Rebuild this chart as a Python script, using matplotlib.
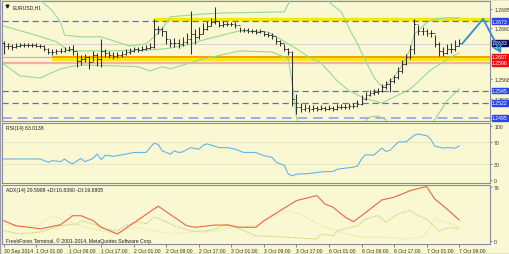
import matplotlib
matplotlib.use("Agg")
import matplotlib.pyplot as plt
import numpy as np

plt.rcParams["font.family"] = ["Liberation Sans", "DejaVu Sans"]

BG = "#f9f8d2"
SPINE = "#8c8ca0"

# hourly bars, bar 0 = 30 Sep 17:00
high = [
    1.2636, 1.2633, 1.2631, 1.2633, 1.2633, 1.2633, 1.2633, 1.2633, 1.2633, 1.2631,
    1.2629, 1.2624, 1.2622, 1.2622, 1.2624, 1.2625, 1.2627, 1.2629, 1.2616, 1.2611,
    1.2612, 1.2609, 1.2618, 1.2614, 1.2640, 1.2622, 1.2618, 1.2616, 1.2616, 1.2618,
    1.2622, 1.2624, 1.2625, 1.2625, 1.2627, 1.2629, 1.2633, 1.2677, 1.2664, 1.2662,
    1.2655, 1.2640, 1.2642, 1.2640, 1.2644, 1.2651, 1.2692, 1.2659, 1.2662, 1.2670,
    1.2673, 1.2679, 1.2699, 1.2673, 1.2673, 1.2671, 1.2671, 1.2671, 1.2662, 1.2660,
    1.2660, 1.2659, 1.2659, 1.2659, 1.2655, 1.2653, 1.2651, 1.2644, 1.2638, 1.2631,
    1.2624, 1.2618, 1.2539, 1.2522, 1.2520, 1.2518, 1.2518, 1.2517, 1.2518, 1.2517,
    1.2518, 1.2517, 1.2520, 1.2520, 1.2520, 1.2522, 1.2522, 1.2528, 1.2537, 1.2542,
    1.2546, 1.2548, 1.2550, 1.2557, 1.2563, 1.2568, 1.2574, 1.2589, 1.2601, 1.2612,
    1.2629, 1.2677, 1.2666, 1.2662, 1.2659, 1.2657, 1.2647, 1.2635, 1.2625, 1.2631,
    1.2633, 1.2638, 1.2640,
]
low = [
    1.2612, 1.2622, 1.2620, 1.2624, 1.2625, 1.2625, 1.2625, 1.2625, 1.2625, 1.2624,
    1.2618, 1.2612, 1.2611, 1.2612, 1.2614, 1.2616, 1.2618, 1.2611, 1.2589, 1.2592,
    1.2598, 1.2585, 1.2600, 1.2590, 1.2589, 1.2607, 1.2605, 1.2603, 1.2605, 1.2607,
    1.2611, 1.2612, 1.2616, 1.2616, 1.2618, 1.2620, 1.2622, 1.2624, 1.2649, 1.2646,
    1.2631, 1.2625, 1.2625, 1.2624, 1.2627, 1.2631, 1.2612, 1.2631, 1.2640, 1.2649,
    1.2657, 1.2664, 1.2668, 1.2662, 1.2662, 1.2664, 1.2664, 1.2660, 1.2653, 1.2653,
    1.2651, 1.2651, 1.2649, 1.2651, 1.2646, 1.2644, 1.2640, 1.2631, 1.2627, 1.2618,
    1.2611, 1.2517, 1.2502, 1.2506, 1.2507, 1.2506, 1.2507, 1.2507, 1.2509, 1.2507,
    1.2509, 1.2507, 1.2509, 1.2511, 1.2511, 1.2511, 1.2513, 1.2515, 1.2518, 1.2528,
    1.2535, 1.2537, 1.2539, 1.2542, 1.2548, 1.2542, 1.2559, 1.2566, 1.2577, 1.2592,
    1.2603, 1.2612, 1.2647, 1.2647, 1.2646, 1.2644, 1.2625, 1.2609, 1.2609, 1.2612,
    1.2614, 1.2618, 1.2627,
]
close = [
    1.2627, 1.2627, 1.2625, 1.2627, 1.2629, 1.2629, 1.2629, 1.2629, 1.2627, 1.2627,
    1.2622, 1.2616, 1.2616, 1.2618, 1.2618, 1.2620, 1.2622, 1.2618, 1.2600, 1.2603,
    1.2607, 1.2598, 1.2611, 1.2603, 1.2618, 1.2614, 1.2611, 1.2609, 1.2611, 1.2612,
    1.2616, 1.2618, 1.2622, 1.2620, 1.2622, 1.2624, 1.2625, 1.2659, 1.2659, 1.2655,
    1.2640, 1.2633, 1.2633, 1.2631, 1.2635, 1.2640, 1.2649, 1.2644, 1.2649, 1.2659,
    1.2664, 1.2671, 1.2673, 1.2666, 1.2668, 1.2668, 1.2668, 1.2666, 1.2657, 1.2657,
    1.2655, 1.2655, 1.2653, 1.2655, 1.2649, 1.2647, 1.2646, 1.2636, 1.2633, 1.2622,
    1.2616, 1.2530, 1.2515, 1.2511, 1.2513, 1.2511, 1.2513, 1.2511, 1.2513, 1.2511,
    1.2513, 1.2511, 1.2515, 1.2515, 1.2515, 1.2517, 1.2517, 1.2520, 1.2530, 1.2537,
    1.2541, 1.2542, 1.2544, 1.2552, 1.2557, 1.2563, 1.2570, 1.2581, 1.2594, 1.2607,
    1.2622, 1.2668, 1.2655, 1.2655, 1.2651, 1.2651, 1.2631, 1.2618, 1.2614, 1.2622,
    1.2622, 1.2627, 1.2633,
]
first_open = 1.2633

# Bollinger bands (20, 2) read at bar positions
bb_up_bar = [0, 9, 12, 14, 15, 19, 24, 31, 35, 37, 39, 41, 49, 54, 69, 70, 71, 72,
             75, 78, 79, 83, 85, 87, 89, 91, 93, 94, 96, 98, 100, 101, 104, 106, 109, 112]
bb_up_val = [1.2729, 1.2712, 1.2692, 1.2671, 1.2647, 1.2644, 1.2644, 1.2627, 1.2631,
             1.2644, 1.2659, 1.2681, 1.2686, 1.2688, 1.2690, 1.2705, 1.2723, 1.2770,
             1.2765, 1.2735, 1.2714, 1.2690, 1.2659, 1.2631, 1.2600, 1.2570, 1.2552,
             1.2555, 1.2570, 1.2592, 1.2622, 1.2649, 1.2670, 1.2677, 1.2679, 1.2679]
bb_mid_bar = [0, 7, 13, 16, 20, 26, 36, 40, 45, 50, 58, 65, 68, 72, 75, 78, 82, 85,
              89, 93, 96, 100, 105, 110, 112]
bb_mid_val = [1.2664, 1.2649, 1.2635, 1.2618, 1.2618, 1.2618, 1.2620, 1.2622, 1.2629,
              1.2640, 1.2655, 1.2653, 1.2640, 1.2622, 1.2607, 1.2596, 1.2563, 1.2544,
              1.2530, 1.2522, 1.2533, 1.2548, 1.2583, 1.2607, 1.2614]
bb_low_bar = [0, 4, 9, 14, 17, 20, 29, 33, 36, 39, 41, 49, 58, 66, 70, 71, 72, 73,
              78, 84, 87, 89, 90, 92, 94, 96, 100, 103, 106, 109, 112]
bb_low_val = [1.2594, 1.2572, 1.2568, 1.2585, 1.2590, 1.2592, 1.2590, 1.2589, 1.2581,
              1.2589, 1.2585, 1.2603, 1.2618, 1.2616, 1.2603, 1.2557, 1.2496, 1.2465,
              1.2419, 1.2437, 1.2465, 1.2489, 1.2496, 1.2498, 1.2491, 1.2474, 1.2437,
              1.2456, 1.2491, 1.2526, 1.2548]

rsi_bar = [0, 9, 11, 12, 14, 15, 16, 17, 18, 19, 20, 22, 23, 24, 25, 27, 30, 32, 35,
           36, 37, 38, 39, 41, 42, 43, 44, 46, 48, 49, 50, 53, 55, 57, 59, 62, 64, 66,
           67, 69, 70, 71, 72, 75, 77, 78, 81, 82, 84, 86, 87, 88, 89, 91, 93, 94, 95,
           97, 99, 100, 101, 102, 104, 105, 106, 108, 109, 111, 112]
rsi_val = [39, 39, 33, 36, 34, 39, 33, 30, 35, 40, 34, 40, 48, 38, 46, 44, 48, 51, 51,
           60, 68, 66, 54, 48, 54, 51, 52, 60, 57, 64, 67, 60, 60, 57, 51, 51, 45, 42,
           33, 27, 11, 8, 11, 12, 14, 15, 16, 20, 22, 24, 26, 39, 47, 46, 59, 53, 55,
           70, 71, 77, 83, 85, 82, 76, 63, 59, 60, 59, 63]

adx_bar = [0, 3, 8, 9, 14, 17, 19, 22, 24, 28, 38, 45, 47, 52, 55, 58, 62, 64, 68, 72,
           77, 79, 81, 84, 86, 88, 93, 96, 100, 104, 106, 109, 112]
adx_val = [28.6, 21.5, 18, 17, 23, 35.6, 35.6, 28.6, 19.3, 9.9, 49, 21.5, 19.3, 22.5,
           22.5, 19.3, 19.3, 28.6, 42.7, 56.8, 63.8, 52, 47.5, 33.4, 27.2, 35.6, 57.7,
           61.5, 70.8, 76.5, 59, 45, 29.6]
pdi_bar = [0, 4, 9, 14, 18, 19, 22, 25, 28, 30, 33, 35, 37, 40, 42, 46, 49, 52, 55,
           58, 62, 70, 77, 78, 81, 82, 84, 87, 89, 92, 94, 97, 100, 102, 104, 107, 110, 112]
pdi_val = [14.5, 10, 12.7, 21.5, 24, 28.6, 24, 17, 14.5, 21.5, 27, 24, 34, 27, 21.5,
           14.5, 12.7, 17, 24, 17, 7.5, 5.2, 2.8, 9.9, 7.5, 14.5, 17, 21.5, 31, 35.6,
           26.3, 38, 42.7, 35.6, 31, 14.5, 19.3, 16.8]
mdi_bar = [0, 4, 8, 12, 15, 19, 24, 28, 30, 33, 35, 39, 42, 46, 49, 52, 55, 58, 62,
           67, 70, 73, 78, 83, 88, 95, 99, 103, 104, 106, 109, 112]
mdi_val = [24, 20, 21.5, 35.6, 28.6, 21.5, 14.5, 10, 17, 19, 17, 12.7, 10, 12.7, 15,
           14, 18, 20, 22, 36, 42.7, 38, 21.5, 12.2, 5.2, 5.2, 2.8, 5.2, 12.2, 31, 26.3, 19.7]

tick_bars = [0, 8, 16, 24, 32, 40, 48, 56, 64, 72, 80, 88, 96, 104, 112]
tick_labels = ["30 Sep 2014", "1 Oct 01:00", "1 Oct 09:00", "1 Oct 17:00",
               "2 Oct 01:00", "2 Oct 09:00", "2 Oct 17:00", "3 Oct 01:00",
               "3 Oct 09:00", "3 Oct 17:00", "6 Oct 01:00", "6 Oct 09:00",
               "6 Oct 17:00", "7 Oct 01:00", "7 Oct 09:00"]

price_ticks = [1.2695, 1.2660, 1.2566, 1.2530]
level_boxes = [
    (1.2673, "#2a44e8"),
    (1.2633, "#0c0c5c"),
    (1.2607, "#ee1010"),
    (1.2596, "#ee1010"),
    (1.2545, "#2a44e8"),
    (1.2522, "#2a44e8"),
    (1.2495, "#2a44e8"),
]
arrow_bar = [112.7, 117.9, 122.3]
arrow_val = [1.2631, 1.2677, 1.2614]

FS = 3.7
XMAX = 119.6

fig = plt.figure(figsize=(5.1, 2.55), dpi=100, facecolor=BG)
ax_p = fig.add_axes([0.0039, 0.522, 0.957, 0.470])
ax_r = fig.add_axes([0.0039, 0.278, 0.957, 0.236])
ax_a = fig.add_axes([0.0039, 0.039, 0.957, 0.232])

for ax in (ax_p, ax_r, ax_a):
    ax.set_facecolor(BG)
    ax.set_xlim(-0.4, XMAX)
    for s in ax.spines.values():
        s.set_color(SPINE)
        s.set_linewidth(0.8)
    ax.yaxis.tick_right()
    ax.tick_params(axis="y", labelsize=FS, length=1.5, width=0.5, color="#555555",
                   labelcolor="#333333", pad=1.5)
    ax.tick_params(axis="x", bottom=False, labelbottom=False)

# ---- price panel
ax_p.set_ylim(1.2489, 1.2710)
ax_p.set_yticks(price_ticks)
ax_p.set_yticklabels([f"{v:.4f}" for v in price_ticks])

dash = (0, (5, 3))
ax_p.axhline(1.2631, color="#d6d6cc", lw=0.8, zorder=1)
ax_p.axhline(1.2596, color="#f4b0a4", lw=1.6, zorder=1)
ax_p.axhline(1.2607, color="#f4a294", lw=0.9, zorder=1)
ax_p.hlines(1.2604, 11.8, XMAX, color="#f6ea10", lw=3.2, zorder=2)
ax_p.hlines(1.2607, 11.8, XMAX, color="#f4a000", lw=1.4, zorder=2)
ax_p.hlines(1.2677, 36.8, XMAX, color="#f2ec00", lw=2.4, zorder=2)
ax_p.axhline(1.2673, color="#6464ee", lw=0.9, ls=dash, zorder=2)
ax_p.axhline(1.2545, color="#6464ee", lw=0.9, ls=dash, zorder=2)
ax_p.axhline(1.2522, color="#6464ee", lw=0.9, ls=dash, zorder=2)
ax_p.axhline(1.2495, color="#a8a8f0", lw=1.4, ls=dash, zorder=2)

green = "#98d898"
ax_p.plot(bb_up_bar, bb_up_val, color=green, lw=0.8, zorder=3)
ax_p.plot(bb_mid_bar, bb_mid_val, color=green, lw=0.8, zorder=3)
ax_p.plot(bb_low_bar, bb_low_val, color=green, lw=0.8, zorder=3)

idx = np.arange(len(close))
opens = np.r_[first_open, close[:-1]]
bar_col = "#303030"
ax_p.vlines(idx, low, high, color=bar_col, lw=0.75, zorder=4)
ax_p.hlines(opens, idx - 0.45, idx, color=bar_col, lw=0.6, zorder=4)
ax_p.hlines(close, idx, idx + 0.45, color=bar_col, lw=0.6, zorder=4)

for val, col in level_boxes:
    ax_p.text(1.004, val, f"{val:.4f}", transform=ax_p.get_yaxis_transform(),
              fontsize=FS, color="white", va="center", ha="left", clip_on=False,
              bbox=dict(boxstyle="square,pad=0.08", fc=col, ec=col), zorder=6)

ax_p.plot(arrow_bar[:2], arrow_val[:2], color="#2f8fd0", lw=1.3, clip_on=False,
          zorder=7, solid_capstyle="round")
ax_p.annotate("", xy=(arrow_bar[2], arrow_val[2]), xytext=(arrow_bar[1], arrow_val[1]),
              annotation_clip=False, zorder=7,
              arrowprops=dict(arrowstyle="->,head_length=0.5,head_width=0.3",
                              color="#2f8fd0", lw=1.3, shrinkA=0, shrinkB=0))

ax_p.text(0.022, 0.955, "EURUSD,H1", transform=ax_p.transAxes, fontsize=FS,
          color="#202020", va="center", ha="left")
ax_p.plot([0.011], [0.955], marker="v", ms=2, color="#202020",
          transform=ax_p.transAxes)

# ---- RSI panel
ax_r.set_ylim(-5.6, 105.6)
ax_r.set_yticks([0, 30, 70, 100])
for lvl in (30, 70):
    ax_r.axhline(lvl, color="#c8c8b0", lw=0.6, ls=(0, (1, 1.5)))
ax_r.plot(rsi_bar, rsi_val, color="#66b4ea", lw=0.8)
ax_r.text(0.008, 0.93, "RSI(14) 63.0138", transform=ax_r.transAxes, fontsize=FS,
          color="#202020", va="center", ha="left")

# ---- ADX panel
ax_a.set_ylim(-4.2, 78.8)
ax_a.set_yticks([0, 76])
ax_a.plot(mdi_bar, mdi_val, color="#e6e29a", lw=0.8, ls=(0, (1, 1)))
ax_a.plot(pdi_bar, pdi_val, color="#b6d25a", lw=0.8, ls=(0, (1, 1)))
ax_a.plot(adx_bar, adx_val, color="#f0624c", lw=0.8)
ax_a.text(0.008, 0.93, "ADX(14) 29.5998 +DI:16.8390 -DI:19.6805",
          transform=ax_a.transAxes, fontsize=FS, color="#202020", va="center", ha="left")
ax_a.text(0.008, 0.065, "FreshForex Terminal, \u00a9 2001-2014, MetaQuotes Software Corp.",
          transform=ax_a.transAxes, fontsize=FS, color="#202020", va="center", ha="left")

ax_a.set_xticks(tick_bars)
ax_a.set_xticklabels(tick_labels)
ax_a.tick_params(axis="x", bottom=True, labelbottom=True, labelsize=FS, length=2,
                 width=0.5, color="#555555", labelcolor="#333333", pad=1.2)
for lab in ax_a.get_xticklabels():
    lab.set_horizontalalignment("left")

fig.patches.append(plt.Rectangle((0, 0), 1, 1, transform=fig.transFigure, fill=False,
                                 ec="#9a9aa8", lw=1.0))

fig.savefig("out.png", dpi=100, facecolor=BG)
